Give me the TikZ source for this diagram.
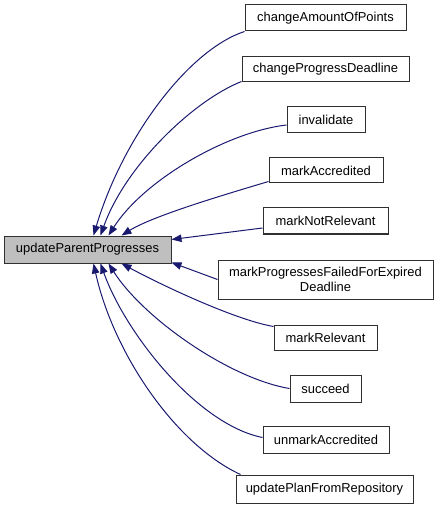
\documentclass[tikz,border=0pt]{standalone}
\usepackage{fontspec}
\setmainfont{Liberation Sans}
\usetikzlibrary{arrows.meta,calc}
\definecolor{edgeblue}{HTML}{191970}
\definecolor{mainfill}{HTML}{BFBFBF}
\definecolor{boxline}{HTML}{303030}
\begin{document}
\begin{tikzpicture}[x=0.75pt,y=-0.75pt,
  box/.style={draw=boxline,line width=0.75pt,fill=white,inner sep=0pt,
    font=\fontsize{9.7}{11.3}\selectfont,align=center},
  edge/.style={draw=edgeblue,line width=0.75pt,
    -{Triangle[length=7.5pt,width=5.6pt]}}]
\useasboundingbox (0,0) rectangle (439,509);
\path[use as bounding box] (0,0) rectangle (439,509);
% main node
\node[box,fill=mainfill,minimum width=167*0.75pt,minimum height=27*0.75pt] (main) at (87.5,249.5) {updateParentProgresses};
% callers
\node[box,minimum width=161*0.75pt,minimum height=26*0.75pt] (n1) at (325.5,18) {changeAmountOfPoints};
\node[box,minimum width=167*0.75pt,minimum height=25*0.75pt] (n2) at (325.5,69.5) {changeProgressDeadline};
\node[box,minimum width=78*0.75pt,minimum height=26*0.75pt] (n3) at (326,120) {invalidate};
\node[box,minimum width=114*0.75pt,minimum height=25*0.75pt] (n4) at (326,170.5) {markAccredited};
\node[box,minimum width=125*0.75pt,minimum height=26*0.75pt] (n5) at (325.5,221) {markNotRelevant};
\node[box,minimum width=215*0.75pt,minimum height=39*0.75pt] (n6) at (325.5,279.5) {markProgressesFailedForExpired\\Deadline};
\node[box,minimum width=103*0.75pt,minimum height=25*0.75pt] (n7) at (325.5,337.5) {markRelevant};
\node[box,minimum width=71*0.75pt,minimum height=27*0.75pt] (n8) at (325.5,388.5) {succeed};
\node[box,minimum width=126*0.75pt,minimum height=27*0.75pt] (n9) at (326,439.5) {unmarkAccredited};
\node[box,minimum width=177*0.75pt,minimum height=28*0.75pt] (n10) at (324.5,489) {updatePlanFromRepository};
% edges
\draw[edge] (n1.south west) .. controls ($(n1.south west)+(-55,18)$) and ($(main.north west)+(120,-100)$) .. ($(main.north west)+(90,0)$);
\draw[edge] ($(n2.south west)+(0,-1)$) .. controls ($(n2.south west)+(-48,18)$) and ($(main.north west)+(122,-70)$) .. ($(main.north west)+(97,0)$);
\draw[edge] ($(n3.west)+(0,5)$) .. controls ($(n3.west)+(-60,12)$) and ($(main.north west)+(140,-55)$) .. ($(main.north west)+(105,0)$);
\draw[edge] ($(n4.south west)+(0,-2)$) .. controls ($(n4.south west)+(-40,10)$) and ($(main.north west)+(150,-20)$) .. ($(main.north west)+(118,0)$);
\draw[edge] ($(n5.west)+(0,7)$) -- ($(main.north east)+(0,4)$);
\draw[edge] (n6.west) -- ($(main.south east)+(0,-1)$);
\draw[edge] ($(n7.north west)+(0,2)$) .. controls ($(n7.north west)+(-40,-5)$) and ($(main.south west)+(155,20)$) .. ($(main.south west)+(118,0)$);
\draw[edge] (n8.west) .. controls ($(n8.west)+(-60,-10)$) and ($(main.south west)+(140,55)$) .. ($(main.south west)+(105,0)$);
\draw[edge] ($(n9.west)+(0,-2)$) .. controls ($(n9.west)+(-65,-15)$) and ($(main.south west)+(122,70)$) .. ($(main.south west)+(97,0)$);
\draw[edge] ($(n10.north west)+(5,0)$) .. controls ($(n10.north west)+(-60,-30)$) and ($(main.south west)+(110,90)$) .. ($(main.south west)+(90,0)$);
\end{tikzpicture}
\end{document}
